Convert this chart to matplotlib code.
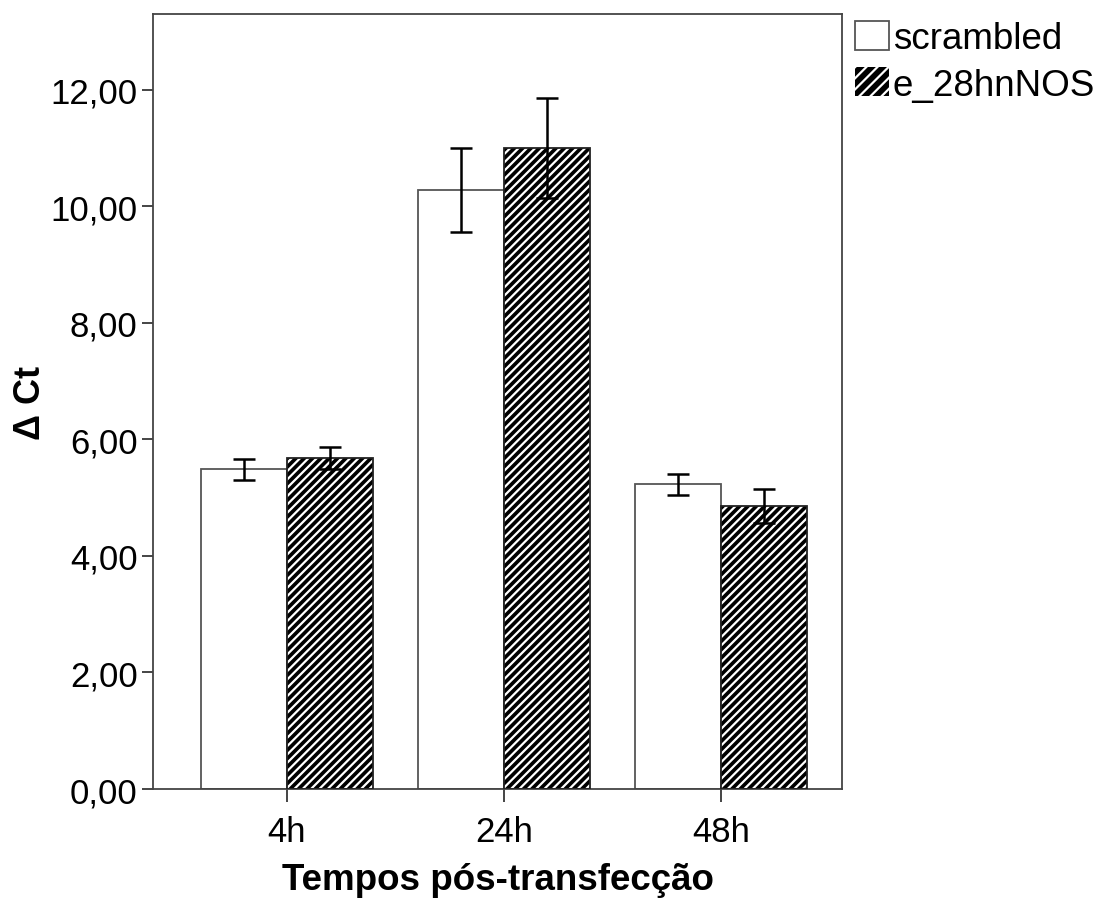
import matplotlib
matplotlib.use("Agg")
import matplotlib.pyplot as plt
from matplotlib.patches import Patch
import numpy as np

plt.rcParams['font.family'] = ['Liberation Sans', 'DejaVu Sans']
plt.rcParams['hatch.linewidth'] = 1.6

times = ['4h', '24h', '48h']
series = ['scrambled', 'e_28hnNOS']
means_scr = [5.49, 10.28, 5.23]
err_scr = [0.18, 0.72, 0.18]
means_nos = [5.68, 11.00, 4.86]
err_nos = [0.19, 0.85, 0.29]

x = np.arange(len(times))
w = 0.396

fig = plt.figure(figsize=(11.14, 9.03), dpi=100)
ax = fig.add_axes([0.1373, 0.1251, 0.6185, 0.8583])

# scrambled: plain white bars
ax.bar(x - w/2, means_scr, w, color='white', edgecolor='#555555', linewidth=1.3, zorder=2)
# e_28hnNOS: black fill with white diagonal hatch, then black outline
ax.bar(x + w/2, means_nos, w, color='black', edgecolor='white', hatch='////', linewidth=0, zorder=2)
ax.bar(x + w/2, means_nos, w, color='none', edgecolor='#222222', linewidth=1.3, zorder=3)

ax.errorbar(x - w/2, means_scr, yerr=err_scr, fmt='none', ecolor='black',
            elinewidth=1.8, capsize=8, capthick=1.8, zorder=4)
ax.errorbar(x + w/2, means_nos, yerr=err_nos, fmt='none', ecolor='black',
            elinewidth=1.8, capsize=8, capthick=1.8, zorder=4)

ax.set_xlim(-0.617, 2.558)
ax.set_ylim(0, 13.3)
ax.set_yticks(np.arange(0, 13, 2))
ax.set_yticklabels([f'{v:.2f}'.replace('.', ',') for v in np.arange(0, 13, 2)])
ax.set_xticks(x)
ax.set_xticklabels(times)
ax.tick_params(axis='both', labelsize=25, direction='out', color='#444444', width=1.4)
ax.tick_params(axis='y', length=8, pad=3)
ax.tick_params(axis='x', length=9, pad=10)
for s in ax.spines.values():
    s.set_color('#444444')
    s.set_linewidth(1.3)

ax.set_xlabel('Tempos pós-transfecção', fontsize=26.5, fontweight='bold', labelpad=10)
ax.set_ylabel('Δ Ct', fontsize=26, fontweight='bold', labelpad=2)

handles = [Patch(facecolor='white', edgecolor='#555555', linewidth=1.3),
           Patch(facecolor='black', edgecolor='white', hatch='///', linewidth=0)]
fig.legend(handles, series, loc='upper left', bbox_to_anchor=(0.7675, 0.976),
           frameon=False, fontsize=26.5, handlelength=0.93, handleheight=0.85,
           handletextpad=0.1, labelspacing=0.3, borderpad=0, borderaxespad=0)

fig.savefig('out.png', dpi=100)
